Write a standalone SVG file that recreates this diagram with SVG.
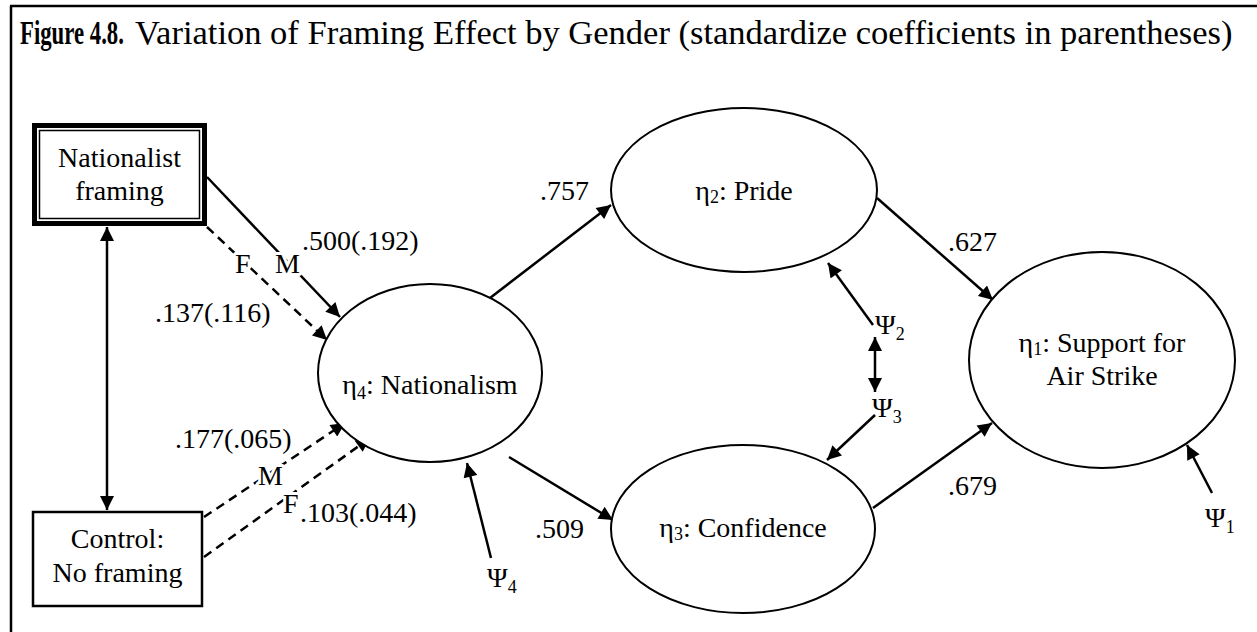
<svg xmlns="http://www.w3.org/2000/svg" width="1257" height="632" viewBox="0 0 1257 632">
  <style>
    text { font-family: "Liberation Serif", "Times New Roman", serif; font-size: 28px; fill: #000; }
    .title { font-size: 34.5px; }
    .b { font-weight: bold; font-size: 33px; }
    .sub { font-size: 18px; }
    .node { fill: #fff; stroke: #000; stroke-width: 2; }
    .edge { fill: none; stroke: #000; stroke-width: 2.5; }
    .dash { stroke-dasharray: 9 6; }
    .halo { stroke: #fff; stroke-width: 6; paint-order: stroke; stroke-linejoin: round; }
  </style>
  <defs>
    <marker id="arrow" viewBox="0 0 10 10" refX="10" refY="5" markerWidth="15" markerHeight="14" markerUnits="userSpaceOnUse" orient="auto-start-reverse">
      <path d="M0,0 L10,5 L0,10 z" fill="#000"/>
    </marker>
  </defs>

  <!-- frame and caption (bold figure number set condensed) -->
  <g id="frame">
    <line x1="11" y1="6" x2="11" y2="632" stroke="#000" stroke-width="2.5"/>
    <line x1="10" y1="6" x2="1257" y2="6" stroke="#000" stroke-width="2.5"/>
    <text class="b" transform="translate(20 44) scale(0.69 1)">Figure 4.8.</text>
    <text class="title" x="135" y="44">Variation of Framing Effect by Gender (standardize coefficients in parentheses)</text>
  </g>

  <!-- connectors -->
  <g id="connectors">
    <line class="edge" x1="107" y1="227" x2="107" y2="510" marker-start="url(#arrow)" marker-end="url(#arrow)"/>
    <line class="edge" x1="207" y1="177" x2="340" y2="317" marker-end="url(#arrow)"/>
    <line class="edge dash" x1="207" y1="227" x2="327" y2="340" marker-end="url(#arrow)"/>
    <line class="edge dash" x1="204" y1="517" x2="345" y2="423" marker-end="url(#arrow)"/>
    <line class="edge dash" x1="204" y1="557" x2="370" y2="438" marker-end="url(#arrow)"/>
    <line class="edge" x1="490" y1="298" x2="611" y2="205" marker-end="url(#arrow)"/>
    <line class="edge" x1="509" y1="457" x2="613" y2="520" marker-end="url(#arrow)"/>
    <line class="edge" x1="491" y1="558" x2="467" y2="463" marker-end="url(#arrow)"/>
    <line class="edge" x1="877" y1="198" x2="993" y2="300" marker-end="url(#arrow)"/>
    <line class="edge" x1="873" y1="508" x2="992" y2="423" marker-end="url(#arrow)"/>
    <line class="edge" x1="873" y1="325" x2="828" y2="263" marker-end="url(#arrow)"/>
    <line class="edge" x1="875" y1="337" x2="875" y2="392" marker-start="url(#arrow)" marker-end="url(#arrow)"/>
    <line class="edge" x1="875" y1="415" x2="827" y2="460" marker-end="url(#arrow)"/>
    <line class="edge" x1="1212" y1="493" x2="1187" y2="445" marker-end="url(#arrow)"/>

    <!-- path coefficients -->
    <text class="halo" x="235" y="273">F</text>
    <text class="halo" x="275" y="273">M</text>
    <text x="302" y="250">.500(.192)</text>
    <text x="155" y="322">.137(.116)</text>
    <text x="175" y="448">.177(.065)</text>
    <text class="halo" x="258" y="485">M</text>
    <text class="halo" x="283" y="513">F</text>
    <text x="300" y="522">.103(.044)</text>
    <text x="540" y="200">.757</text>
    <text x="535" y="538">.509</text>
    <text x="948" y="251">.627</text>
    <text x="948" y="495">.679</text>

    <!-- disturbances -->
    <text x="487" y="587">Ψ<tspan class="sub" dy="6">4</tspan></text>
    <text x="875" y="334">Ψ<tspan class="sub" dy="6">2</tspan></text>
    <text x="872" y="417">Ψ<tspan class="sub" dy="6">3</tspan></text>
    <text x="1205" y="527">Ψ<tspan class="sub" dy="6">1</tspan></text>
  </g>

  <g id="nationalist-framing">
    <rect x="34.5" y="125.5" width="170" height="98" fill="#fff" stroke="#000" stroke-width="5"/>
    <rect x="39.5" y="130.5" width="160" height="88" fill="none" stroke="#000" stroke-width="1.5"/>
    <text x="119.5" y="167" text-anchor="middle">Nationalist</text>
    <text x="119.5" y="200" text-anchor="middle">framing</text>
  </g>

  <g id="control">
    <rect x="33" y="512" width="169" height="94" fill="#fff" stroke="#000" stroke-width="2.5"/>
    <text x="117.5" y="548" text-anchor="middle">Control:</text>
    <text x="117.5" y="582" text-anchor="middle">No framing</text>
  </g>

  <g id="nationalism">
    <ellipse class="node" cx="430" cy="373" rx="112" ry="89"/>
    <text x="430" y="394" text-anchor="middle">η<tspan class="sub" dy="5">4</tspan><tspan dy="-5">: Nationalism</tspan></text>
  </g>

  <g id="pride">
    <ellipse class="node" cx="744" cy="190" rx="133" ry="82"/>
    <text x="744" y="200" text-anchor="middle">η<tspan class="sub" dy="3">2</tspan><tspan dy="-3">: Pride</tspan></text>
  </g>

  <g id="confidence">
    <ellipse class="node" cx="743" cy="529" rx="132" ry="84"/>
    <text x="743" y="537" text-anchor="middle">η<tspan class="sub" dy="3">3</tspan><tspan dy="-3">: Confidence</tspan></text>
  </g>

  <g id="support">
    <ellipse class="node" cx="1102" cy="360" rx="133" ry="108"/>
    <text x="1102" y="352" text-anchor="middle">η<tspan class="sub" dy="3">1</tspan><tspan dy="-3">: Support for</tspan></text>
    <text x="1102" y="385" text-anchor="middle">Air Strike</text>
  </g>
</svg>
